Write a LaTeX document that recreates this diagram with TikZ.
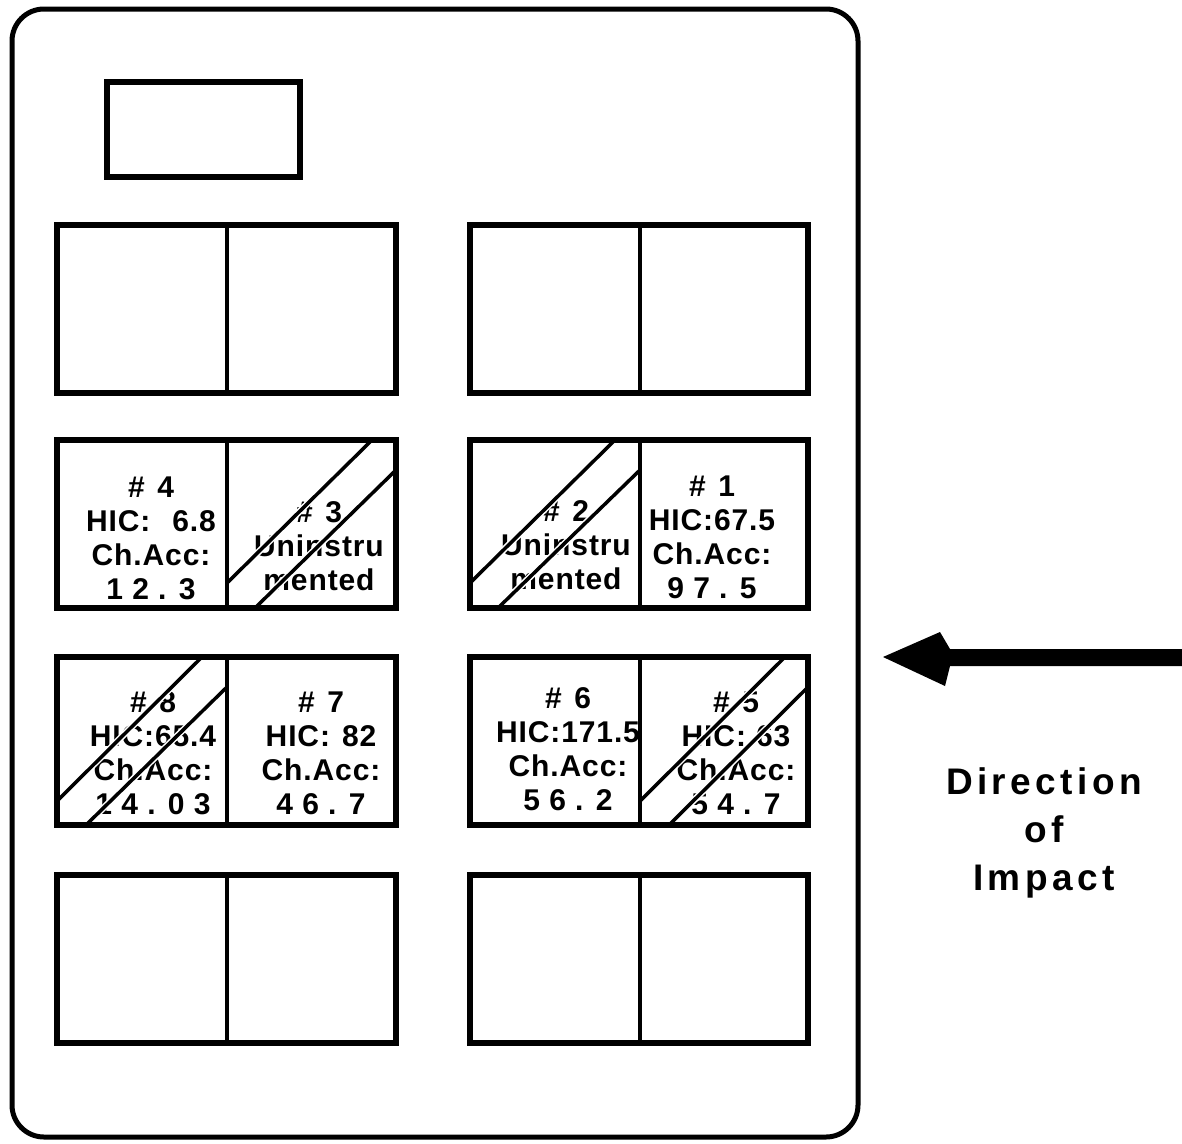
\documentclass[tikz,border=0pt]{standalone}
\usepackage{fontspec}
\newfontfamily\cellfont[LetterSpace=3]{Liberation Sans}
\newfontfamily\dirfont[LetterSpace=12]{Liberation Sans}
\newcommand\hashno[1]{\#\hspace{0.42em}#1}
\begin{document}
\begin{tikzpicture}[x=1pt,y=-1pt,
  outerbox/.style={line width=5pt, rounded corners=32pt},
  pairbox/.style={line width=5.5pt},
  divider/.style={line width=4pt},
  hatch/.style={line width=3.5pt, preaction={draw=white, line width=6.5pt}},
  celltext/.style={align=center, inner sep=0pt, font=\cellfont\bfseries\fontsize{30}{34}\selectfont},
  dirtext/.style={align=center, inner sep=0pt, font=\dirfont\bfseries\fontsize{37}{48}\selectfont}]
\useasboundingbox (0,0) rectangle (1182,1143);

% outer outline
\draw[outerbox] (12,9) rectangle (858,1137);
% small rectangle
\draw[pairbox] (107,82) rectangle (300,177);

% seat texts
\node[celltext] (t4) at (151,538) {\hashno{4}\\HIC:\hspace{22pt}6.8\\Ch.Acc:\\1 2 . 3};
\node[celltext] (t3) at (319,546) {\hashno{3}\\Uninstru\\mented};
\node[celltext] (t2) at (566,545) {\hashno{2}\\Uninstru\\mented};
\node[celltext] (t1) at (712,537) {\hashno{1}\\HIC:67.5\\Ch.Acc:\\9 7 . 5};
\node[celltext] (t8) at (153,753) {\hashno{8}\\HIC:65.4\\Ch.Acc:\\1 4 . 0 3};
\node[celltext] (t7) at (321,753) {\hashno{7}\\HIC:\hspace{12pt}82\\Ch.Acc:\\4 6 . 7};
\node[celltext] (t6) at (568,749) {\hashno{6}\\HIC:171.5\\Ch.Acc:\\5 6 . 2};
\node[celltext] (t5) at (736,753) {\hashno{5}\\HIC:\hspace{10pt}63\\Ch.Acc:\\5 4 . 7};

% diagonal hatching of seats 3, 2, 8, 5 (cell: L,T,R,B)
\foreach \L/\T/\R/\B in {227/440/396/608, 470/440/640/608, 57/657/227/826, 640/657/808/826}{
  \draw[hatch] (\L,\B-25) -- (\L+145,\T);
  \draw[hatch] (\L+28,\B) -- (\R,\T+30);
}

% seat pairs
\foreach \T in {225,440,657,875}{
  \foreach \Lx/\Mx/\Rx in {57/227/396, 470/640/808}{
    \draw[pairbox] (\Lx,\T) rectangle (\Rx,\T+168);
    \draw[divider] (\Mx,\T) -- (\Mx,\T+168);
  }
}

% direction of impact arrow
\coordinate (tip) at (883,657);
\fill (tip) -- (940,632) -- (950,649) -- (1182,649) -- (1182,666) -- (950,666) -- (945,686) -- cycle;
\node[dirtext] (dir) at (1044,833) {Direction\\o\hspace{5pt}f\\Impact};
\end{tikzpicture}
\end{document}
